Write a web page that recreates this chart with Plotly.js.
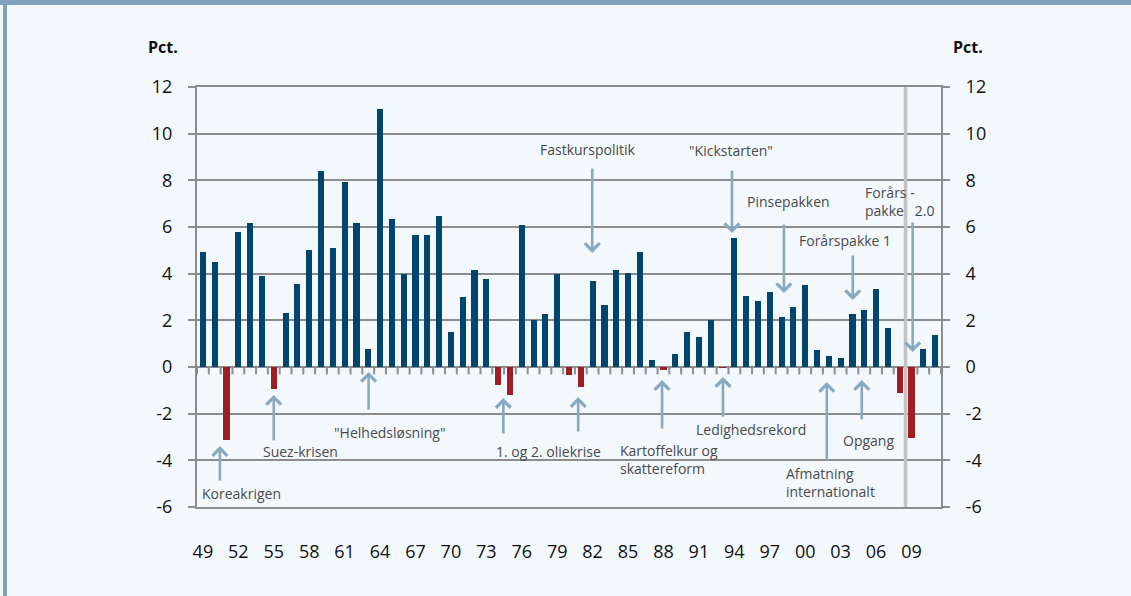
<!DOCTYPE html>
<html>
<head>
<meta charset="utf-8">
<script src="https://cdn.plot.ly/plotly-3.0.1.min.js"></script>
<style>
html,body{margin:0;padding:0;background:#F3F8FD;}
#chart{width:1131px;height:596px;}
</style>
</head>
<body>
<div id="chart"></div>
<script>
// ---- data ----
const years = [1949,1950,1951,1952,1953,1954,1955,1956,1957,1958,1959,1960,1961,1962,1963,1964,1965,1966,1967,1968,1969,1970,1971,1972,1973,1974,1975,1976,1977,1978,1979,1980,1981,1982,1983,1984,1985,1986,1987,1988,1989,1990,1991,1992,1993,1994,1995,1996,1997,1998,1999,2000,2001,2002,2003,2004,2005,2006,2007,2008,2009,2010,2011];
const growth = [4.93,4.5,-3.14,5.8,6.16,3.91,-0.93,2.31,3.57,5.0,8.4,5.1,7.91,6.19,0.79,11.06,6.33,3.97,5.64,5.67,6.47,1.5,3.01,4.17,3.77,-0.79,-1.21,6.09,2.0,2.29,3.97,-0.36,-0.87,3.7,2.66,4.17,4.04,4.94,0.29,-0.14,0.57,1.49,1.3,2.0,-0.06,5.51,3.06,2.84,3.21,2.16,2.57,3.53,0.71,0.47,0.39,2.29,2.46,3.36,1.66,-1.13,-3.06,0.79,1.37];
const xTickVals = [1949,1952,1955,1958,1961,1964,1967,1970,1973,1976,1979,1982,1985,1988,1991,1994,1997,2000,2003,2006,2009];
const xTickText = ["49","52","55","58","61","64","67","70","73","76","79","82","85","88","91","94","97","00","03","06","09"];
const yTickVals = [-6,-4,-2,0,2,4,6,8,10,12];
const yTickText = ["-6","-4","-2","0","2","4","6","8","10","12"];
const yearBoundaries = [1948.5].concat(years.map(y => y + 0.5));

// ---- style ----
const BLUE = "#00456E", RED = "#A11D25", GRID = "#8C8C8C", ARROW = "#88AAC0", TXT = "#4A4A4A";
const BG = "#F3F8FD";
const FONT = "Open Sans";
const TICK_LEN_UNITS = 0.27; // ~6px below the zero line

const barTrace = {
  type: "bar", x: years, y: growth,
  marker: {color: growth.map(v => v < 0 ? RED : BLUE), line: {width: 0}},
  width: 0.52, hoverinfo: "skip", showlegend: false
};
// small year-boundary ticks hanging from the zero line
const zeroTickMarks = {
  type: "scatter", mode: "markers", x: yearBoundaries, y: yearBoundaries.map(() => -TICK_LEN_UNITS / 2),
  marker: {symbol: "line-ns-open", size: 6, color: "#8E8E8E", line: {width: 2, color: "#8E8E8E"}},
  hoverinfo: "skip", showlegend: false, cliponaxis: false
};
const ghostY2 = {type: "scatter", mode: "markers", marker: {opacity: 0}, x: years, y: growth, xaxis: "x", yaxis: "y2", hoverinfo: "skip", showlegend: false};

// arrows: [tipX, tipY, tailX, tailY]
const arrows = [
  [1950.44,-3.39,1950.44,-4.93],
  [1955.0,-1.2,1955.0,-3.21],
  [1963.03,-0.21,1963.03,-1.89],
  [1974.44,-1.33,1974.44,-2.91],
  [1980.78,-1.29,1980.78,-2.83],
  [1987.88,-0.56,1987.88,-2.7],
  [1993.04,-0.43,1993.04,-2.19],
  [2001.83,-0.64,2001.83,-4.07],
  [2004.79,-0.56,2004.79,-2.31],
  [1981.97,4.89,1981.97,8.57],
  [1993.8,5.74,1993.8,8.49],
  [1998.2,3.17,1998.2,6.17],
  [2004.03,2.87,2004.03,4.84],
  [2009.1,0.64,2009.1,6.26]
];
// labels: [text, x, y, xanchor]
const labels = [
  ["Koreakrigen",1952.3,-5.4,"center"],
  ["Suez-krisen",1957.28,-3.6,"center"],
  ["\"Helhedsløsning\"",1964.8,-2.79,"center"],
  ["1. og 2. oliekrise",1978.25,-3.6,"center"],
  ["Kartoffelkur og<br>skattereform",1984.17,-3.96,"left"],
  ["Ledighedsrekord",1995.4,-2.66,"center"],
  ["Afmatning<br>internationalt",1998.2,-4.93,"left"],
  ["Opgang",2005.38,-3.13,"center"],
  ["Fastkurspolitik",1981.63,9.34,"center"],
  ["\"Kickstarten\"",1993.72,9.3,"center"],
  ["Pinsepakken",1998.6,7.11,"center"],
  ["Forårspakke 1",2003.4,5.44,"center"],
  ["Forårs -<br>pakke\u00a0\u00a0\u00a02.0",2004.88,7.11,"left"]
];

const annotations = [];
arrows.forEach(a => annotations.push({
  x: a[0], y: a[1], ax: a[2], ay: a[3], xref: "x", yref: "y", axref: "x", ayref: "y",
  text: "", showarrow: true, arrowhead: 4, arrowsize: 1.1, arrowwidth: 2.6, arrowcolor: ARROW, standoff: 0, startstandoff: 0
}));
labels.forEach(l => annotations.push({
  x: l[1], y: l[2], xref: "x", yref: "y", text: l[0], showarrow: false,
  xanchor: l[3], yanchor: "middle", align: "left",
  font: {family: FONT, size: 14, color: TXT}
}));
annotations.push({x: -0.0228, y: 1.0952, xref: "paper", yref: "paper", text: "<b>Pct.</b>", showarrow: false,
  xanchor: "right", yanchor: "middle", font: {family: FONT, size: 16, color: "#111"}});
annotations.push({x: 1.0134, y: 1.0952, xref: "paper", yref: "paper", text: "<b>Pct.</b>", showarrow: false,
  xanchor: "left", yanchor: "middle", font: {family: FONT, size: 16, color: "#111"}});

const L = 197, R = 941, T = 87, B = 507;
const px2x = p => (p - L) / (R - L);
const py2y = p => (B - p) / (B - T);

const shapes = [
  {type: "line", xref: "x", yref: "paper", x0: 2008.5, x1: 2008.5, y0: 0, y1: 1, line: {color: "#C3C3C3", width: 3.5}, layer: "above"},
  {type: "rect", xref: "paper", yref: "paper", x0: px2x(0), x1: px2x(1131), y0: py2y(5), y1: py2y(0), line: {width: 0}, fillcolor: "#7FA2BA", layer: "above"},
  {type: "rect", xref: "paper", yref: "paper", x0: px2x(3), x1: px2x(7), y0: py2y(596), y1: py2y(0), line: {width: 0}, fillcolor: "#7FA2BA", layer: "above"}
];

const layout = {
  width: 1131, height: 596,
  margin: {l: L, r: 1131 - R, t: T, b: 596 - B, pad: 0},
  paper_bgcolor: BG, plot_bgcolor: BG,
  font: {family: FONT, color: "#111"},
  bargap: 0,
  xaxis: {
    range: [1948.5, 2011.5], tickmode: "array", tickvals: xTickVals, ticktext: xTickText,
    ticks: "", showgrid: false, zeroline: false, showline: true, mirror: true, linecolor: GRID, linewidth: 2,
    tickfont: {family: FONT, size: 18, color: "#111"}, ticklabelstandoff: 27
  },
  yaxis: {
    range: [-6, 12], tickmode: "array", tickvals: yTickVals, ticktext: yTickText,
    ticks: "outside", ticklen: 7, tickwidth: 2, tickcolor: GRID,
    showgrid: true, gridcolor: GRID, gridwidth: 2, zeroline: true, zerolinecolor: GRID, zerolinewidth: 2,
    showline: true, linecolor: GRID, linewidth: 2,
    tickfont: {family: FONT, size: 18, color: "#111"}, ticklabelstandoff: 12
  },
  yaxis2: {
    overlaying: "y", side: "right", anchor: "x", range: [-6, 12], tickmode: "array", tickvals: yTickVals, ticktext: yTickText,
    ticks: "outside", ticklen: 7, tickwidth: 2, tickcolor: GRID, showgrid: false, zeroline: false,
    showline: true, linecolor: GRID, linewidth: 2,
    tickfont: {family: FONT, size: 18, color: "#111"}, ticklabelstandoff: 12
  },
  annotations: annotations,
  shapes: shapes
};

Plotly.newPlot("chart", [barTrace, zeroTickMarks, ghostY2], layout, {staticPlot: true, displayModeBar: false});
</script>
</body>
</html>
